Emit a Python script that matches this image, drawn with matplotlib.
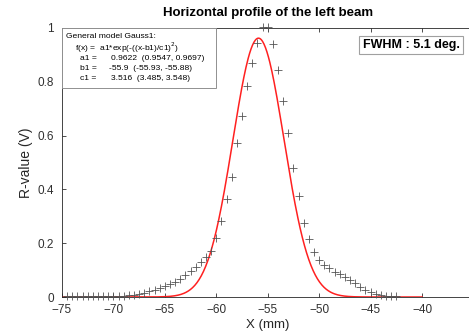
import numpy as np
import matplotlib.pyplot as plt

plt.rcParams['font.family'] = ['Liberation Sans', 'DejaVu Sans']

# measured R-value along X (mm)
x_mm = np.arange(-74.5, -42.0, 0.5)
r_val = [0.003, 0.003, 0.003, 0.003, 0.003, 0.003, 0.003, 0.003, 0.003, 0.004,
         0.004, 0.005, 0.007, 0.009, 0.012, 0.016, 0.021, 0.026, 0.032, 0.040,
         0.047, 0.056, 0.068, 0.082, 0.097, 0.112, 0.130, 0.148, 0.170, 0.220,
         0.283, 0.364, 0.446, 0.572, 0.673, 0.784, 0.870, 0.944, 1.005, 1.004,
         0.941, 0.844, 0.729, 0.610, 0.480, 0.375, 0.275, 0.216, 0.167, 0.138,
         0.119, 0.108, 0.093, 0.085, 0.074, 0.063, 0.052, 0.037, 0.026, 0.019,
         0.011, 0.006, 0.004, 0.003, 0.002]

# Gauss1 fit parameters
a1, b1, c1 = 0.9622, -55.9, 3.516
fwhm = 5.1

fig = plt.figure(figsize=(4.69, 3.34), dpi=100)
ax = fig.add_axes([62 / 469, 37 / 334, 411.5 / 469, 269 / 334])

xf = np.linspace(-75, -40, 500)
ax.plot(xf, a1 * np.exp(-((xf - b1) / c1) ** 2), color='#ff2020', lw=1.1, zorder=2)
ax.plot(x_mm, r_val, '+', color='#555555', ms=5.5, mew=0.6, clip_on=False, zorder=3)

ax.set_xlim(-75, -35)
ax.set_ylim(0, 1)
ax.set_xticks(np.arange(-75, -39, 5))
ax.set_yticks([0, 0.2, 0.4, 0.6, 0.8, 1])
ax.set_yticklabels(['0', '0.2', '0.4', '0.6', '0.8', '1'])
ax.tick_params(direction='in', length=3, width=0.6, labelsize=8.5,
               colors='#303030', top=True, right=True)
ax.tick_params(axis='y', pad=6)
ax.tick_params(axis='x', pad=5)
for s in ax.spines.values():
    s.set_color('#262626')
    s.set_linewidth(0.6)

ax.set_xlabel('X (mm)', fontsize=9.5, color='#262626', labelpad=2)
ax.set_ylabel('R-value (V)', fontsize=10, color='#262626', labelpad=3)
fig.text(268 / 469, 1 - 13 / 334, 'Horizontal profile of the left beam',
         ha='center', va='center', fontsize=9.5, fontweight='bold')

# fit summary box
fig.patches.append(plt.Rectangle((62 / 469, 1 - 88 / 334), 154 / 469, 60 / 334,
                                 transform=fig.transFigure, fc='white',
                                 ec='#909090', lw=0.7, zorder=5))
fs = 6.1
fig.text(66 / 469, 1 - 37 / 334, 'General model Gauss1:', fontsize=fs, va='center', zorder=6)
fig.text(75 / 469, 1 - 48 / 334, 'f(x) =  a1*exp(-((x-b1)/c1)$^2$)', fontsize=fs, va='center', zorder=6)
rows = [('a1 =', '0.9622  (0.9547, 0.9697)'),
        ('b1 =', '-55.9  (-55.93, -55.88)'),
        ('c1 =', '3.516  (3.485, 3.548)')]
for i, (k, v) in enumerate(rows):
    y = 1 - (58 + 10 * i) / 334
    fig.text(80 / 469, y, k, fontsize=fs, va='center', zorder=6)
    fig.text((111 if i != 1 else 109) / 469, y, v, fontsize=fs, va='center', zorder=6)

fig.text(411 / 469, 1 - 45 / 334, 'FWHM : %.1f deg.' % fwhm, ha='center', va='center',
         fontsize=9, fontweight='bold',
         bbox=dict(boxstyle='square,pad=0.25', fc='white', ec='#a0a0a0', lw=0.8))

fig.savefig('out.png', dpi=100)
